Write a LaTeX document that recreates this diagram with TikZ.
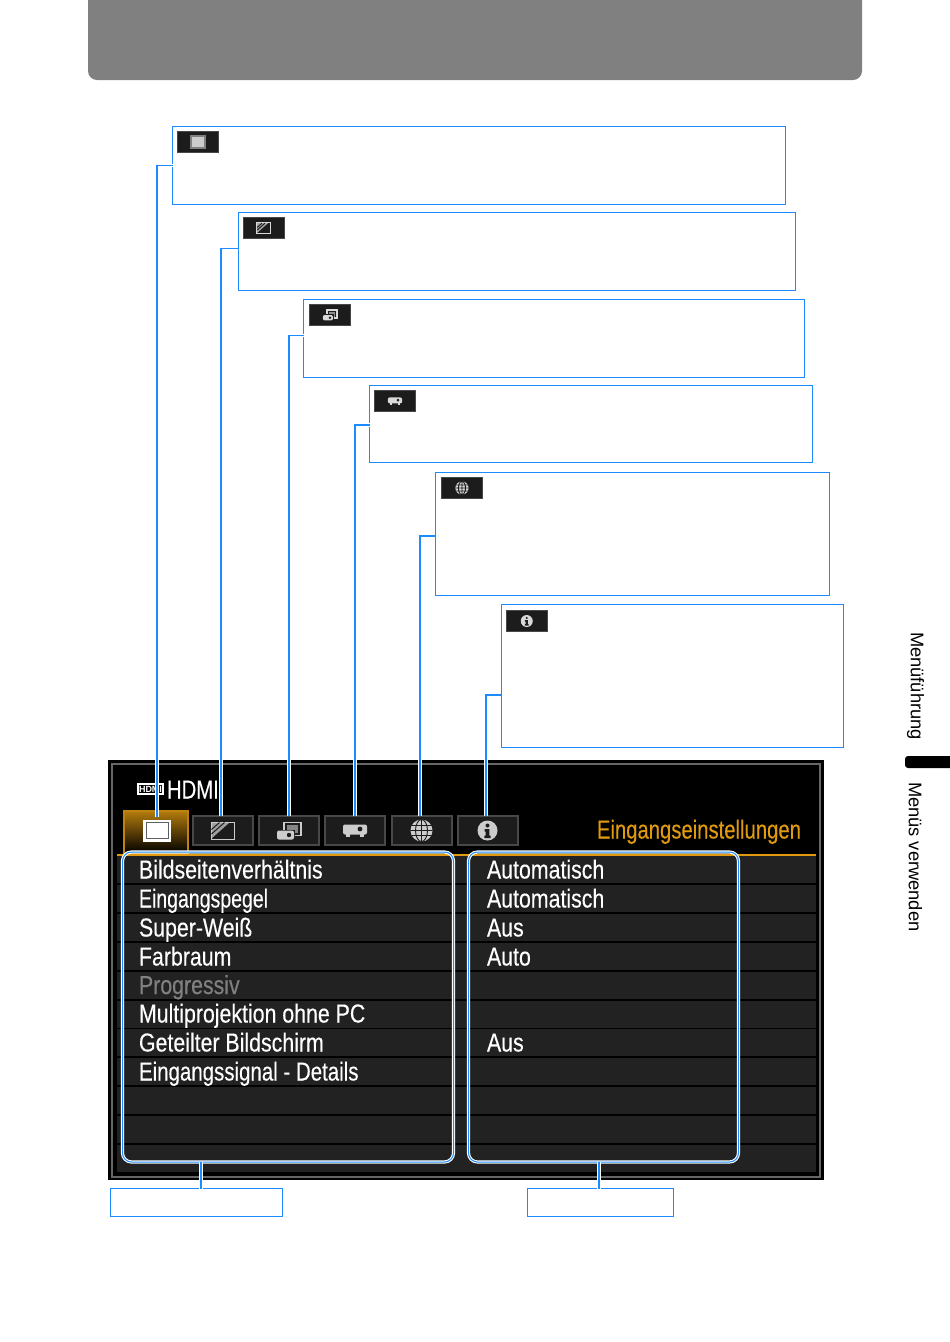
\documentclass[tikz,border=0pt]{standalone}
\usepackage{fontspec}
\usetikzlibrary{positioning}
\setmainfont{Liberation Sans}
\newfontfamily\menufont[FakeStretch=0.82,FakeBold=0.25]{Liberation Sans}
\newfontfamily\titlefont[FakeStretch=0.78,FakeBold=0.25]{Liberation Sans}
\definecolor{calloutblue}{HTML}{1A8CFF}
\definecolor{menuorange}{HTML}{E09A10}
\definecolor{rowgray}{HTML}{222222}
\definecolor{tabgray}{HTML}{1C1C1C}
\definecolor{tabline}{HTML}{484848}
\definecolor{icondark}{HTML}{1C1C1C}
\tikzset{
  pics/iconframe/.style = {code = {
    \fill (-14,-11) rectangle (14,11);
    \fill[icondark, opacity=.7] (-11.5,-8.5) rectangle (11.5,8.5);
    \fill (-10.5,-7.5) rectangle (10.5,7.5);
  }},
  pics/iconlevel/.style = {code = {
    \draw[line width=1] (-11.5,-8.5) rectangle (11.5,8.5);
    \fill[opacity=.75] (-11,-8) -- (7,-8) -- (-11,8) -- cycle;
    \draw[icondark, line width=1] (-11,-1) -- (-3,-8) (-11,3.5) -- (2,-8);
  }},
  pics/iconsetup/.style = {code = {
    \draw[line width=1.5] (-5,-8) rectangle (12,5);
    \fill[opacity=.6] (-2,-5.5) rectangle (9,2.5);
    \fill[icondark] (-13,-1) rectangle (6,10);
    \fill[rounded corners=2] (-12,0) rectangle (5,9);
    \fill[icondark] (0,4.5) circle (2.2);
  }},
  pics/iconprojector/.style = {code = {
    \fill[rounded corners=2] (-12,-6) rectangle (12,4);
    \fill (-9,3) rectangle (-5,6.5);
    \fill (5,3) rectangle (9,6.5);
    \fill[icondark] (5,-1.5) circle (2.4);
  }},
  pics/iconglobe/.style = {code = {
    \fill (0,0) circle (11);
    \draw[icondark, line width=.9] (0,-11) -- (0,11) (-11,0) -- (11,0)
      (-10,-5) -- (10,-5) (-10,5) -- (10,5)
      (0,0) ellipse (6 and 11);
  }},
  pics/iconinfo/.style = {code = {
    \fill (0,0) circle (10);
    \fill[icondark] (0,-5) circle (2);
    \fill[icondark] (-3,-1.5) -- (1.8,-1.5) -- (1.8,5) -- (3.2,5) -- (3.2,7.5)
      -- (-3.2,7.5) -- (-3.2,5) -- (-1.8,5) -- (-1.8,1) -- (-3,1) -- cycle;
  }}
}
\begin{document}
\begin{tikzpicture}[x = 1pt, y = -1pt,
    every node/.style = { inner sep = 0pt, outer sep = 0pt },
    calloutbox/.style = { draw = calloutblue, line width = 1pt, fill = white },
    iconbox/.style = { draw = tabline, line width = .8pt, fill = tabgray, minimum width = 41pt, minimum height = 21pt },
    menutab/.style = { draw = tabline, line width = 2pt, fill = tabgray, minimum width = 60pt, minimum height = 29pt },
    rowbar/.style = { fill = rowgray, minimum width = 699pt, minimum height = 27pt },
    menutext/.style = { anchor = base west, text = white, font = \fontsize{26}{26}\selectfont\menufont },
    sidetext/.style = { rotate = -90, anchor = west, font = \fontsize{18.3}{18.3}\selectfont },
    leader/.style = { draw = white, double = calloutblue, double distance = 1.1pt, line width = 1.1pt },
    colframe/.style = { draw = white, double = calloutblue, double distance = 1pt, line width = 1.1pt, rounded corners = 9pt },
    smallicon/.style = { scale = .6, color = black!15 },
    bigicon/.style = { color = white!80!black }]
    \path[use as bounding box] (0,0) rectangle (950,1342);

    % page furniture
    \fill[black!50] (88,0) -- (88,40) [rounded corners = 9pt] -- (88,80) -- (862,80) [sharp corners] -- (862,40) -- (862,0) -- cycle;
    \node[sidetext] (sidea) at (915.5,632) {Menüführung};
    \node[sidetext] (sideb) at (915.5,782) {Menüs verwenden};
    \fill[black] (950,756) -- (915,756) [rounded corners = 3pt] -- (905,756) -- (905,768) -- (915,768) [sharp corners] -- (950,768) -- cycle;

    % screen
    \node[fill = black, minimum width = 716pt, minimum height = 420pt] (screen) at (466,970) {};
    \node[draw = black!60, line width = 2pt, minimum width = 708pt, minimum height = 413pt] (screenline) at (466,970.5) {};

    \node[rowbar] (rowa) at (466.5,869.5) {};
    \node[rowbar] (rowb) at (466.5,898.4) {};
    \node[rowbar] (rowc) at (466.5,927.3) {};
    \node[rowbar] (rowd) at (466.5,956.2) {};
    \node[rowbar] (rowe) at (466.5,985.1) {};
    \node[rowbar] (rowf) at (466.5,1014) {};
    \node[rowbar] (rowg) at (466.5,1042.9) {};
    \node[rowbar] (rowh) at (466.5,1071.8) {};
    \node[rowbar] (rowi) at (466.5,1100.7) {};
    \node[rowbar] (rowj) at (466.5,1129.6) {};
    \node[rowbar] (rowk) at (466.5,1158.5) {};
    \fill[menuorange] (117,853.5) rectangle (816,855.5);

    % tabs
    \node[draw = menuorange!85!black, line width = 2pt, top color = menuorange!80!black, bottom color = black, minimum width = 64pt, minimum height = 42pt] (taba) at (156,832) {};
    \node[menutab] (tabb) at (222.5,830.5) {};
    \node[menutab] (tabc) at (289,830.5) {};
    \node[menutab] (tabd) at (355,830.5) {};
    \node[menutab] (tabe) at (421.5,830.5) {};
    \node[menutab] (tabf) at (487.5,830.5) {};
    \pic[color = white] at (157,830.5) {iconframe};
    \pic[bigicon] at (tabb) {iconlevel};
    \pic[bigicon] at (tabc) {iconsetup};
    \pic[bigicon] at (tabd) {iconprojector};
    \pic[bigicon] at (tabe) {iconglobe};
    \pic[bigicon] at (tabf) {iconinfo};

    % screen texts
    \node[draw = white, line width = 1.2pt, minimum width = 25pt, minimum height = 10pt, text = white, font = \fontsize{9}{9}\selectfont\bfseries] (hdmilogo) at (150.5,789) {HDMI};
    \node[menutext, font = \fontsize{26}{26}\selectfont\titlefont] (hdmi) at (167,798.5) {HDMI};
    \node[menutext, anchor = base east, text = menuorange, font = \fontsize{26}{26}\selectfont\titlefont] (title) at (801,838.5) {Eingangseinstellungen};

    \node[menutext] (itema) at (139,878.5) {Bildseitenverhältnis};
    \node[menutext] (itemb) at (139,907.5) {\scalebox{.915}[1]{Eingangspegel}};
    \node[menutext] (itemc) at (139,936.5) {Super-Weiß};
    \node[menutext] (itemd) at (139,965.5) {Farbraum};
    \node[menutext, text = black!50] (iteme) at (139,994) {Progressiv};
    \node[menutext] (itemf) at (139,1022.5) {Multiprojektion ohne PC};
    \node[menutext] (itemg) at (139,1051.5) {Geteilter Bildschirm};
    \node[menutext] (itemh) at (139,1080.5) {\scalebox{.96}[1]{Eingangssignal - Details}};

    \node[menutext] (vala) at (487,878.5) {Automatisch};
    \node[menutext] (valb) at (487,907.5) {Automatisch};
    \node[menutext] (valc) at (487,936.5) {Aus};
    \node[menutext] (vald) at (487,965.5) {Auto};
    \node[menutext] (valg) at (487,1051.5) {Aus};

    % callouts
    \node[calloutbox, minimum width = 613pt, minimum height = 78pt] (boxa) at (479,165.5) {};
    \node[calloutbox, minimum width = 557.5pt, minimum height = 78pt] (boxb) at (517,251.5) {};
    \node[calloutbox, minimum width = 501pt, minimum height = 78pt] (boxc) at (554,338.5) {};
    \node[calloutbox, minimum width = 443pt, minimum height = 77pt] (boxd) at (591,424) {};
    \node[calloutbox, minimum width = 394.5pt, minimum height = 123pt] (boxe) at (632.7,534) {};
    \node[calloutbox, minimum width = 342.5pt, minimum height = 143pt] (boxf) at (672.5,676) {};
    \node[calloutbox, minimum width = 172pt, minimum height = 28pt] (boxl) at (196.5,1202.5) {};
    \node[calloutbox, minimum width = 146pt, minimum height = 28pt] (boxr) at (600.5,1202.5) {};

    \node[iconbox, below right = 5pt and 5pt of boxa.north west] (icona) {};
    \node[iconbox, below right = 5pt and 5pt of boxb.north west] (iconb) {};
    \node[iconbox, below right = 5pt and 6pt of boxc.north west] (iconc) {};
    \node[iconbox, below right = 5pt and 5pt of boxd.north west] (icond) {};
    \node[iconbox, below right = 5pt and 6pt of boxe.north west] (icone) {};
    \node[iconbox, below right = 6pt and 5pt of boxf.north west] (iconf) {};
    \node[draw = black!50, line width = 1.5pt, fill = black!20, minimum width = 14pt, minimum height = 12pt] (iconamark) at (icona) {};
    \pic[smallicon] at (iconb) {iconlevel};
    \pic[smallicon] at (iconc) {iconsetup};
    \pic[smallicon] at (icond) {iconprojector};
    \pic[smallicon] at (icone) {iconglobe};
    \pic[smallicon] at (iconf) {iconinfo};

    % column frames
    \node[colframe, minimum width = 331pt, minimum height = 310pt] (framel) at (288,1007) {};
    \node[colframe, minimum width = 270pt, minimum height = 310pt] (framer) at (603.5,1007) {};

    % leaders
    \draw[leader] (boxa.west) -| ([xshift = 1pt, yshift = -6pt]taba.north);
    \draw[leader] ([yshift = 3pt]boxb.north west |- boxb.west) -| ([xshift = -1.5pt]tabb.north);
    \draw[leader] ([yshift = 3pt]boxc.north west |- boxc.west) -| (tabc.north);
    \draw[leader] ([yshift = -1pt]boxd.north west |- boxd.west) -| (tabd.north);
    \draw[leader] ([yshift = -2pt]boxe.north west |- boxe.west) -| ([xshift = -1.5pt]tabe.north);
    \draw[leader] ([yshift = -19pt]boxf.north west |- boxf.west) -| ([xshift = -1.5pt]tabf.north);
    \draw[leader] ([xshift = 4.5pt]boxl.north) -- ([xshift = 4.5pt]boxl.north |- framel.south);
    \draw[leader] ([xshift = -1.5pt]boxr.north) -- ([xshift = -1.5pt]boxr.north |- framer.south);
\end{tikzpicture}
\end{document}
